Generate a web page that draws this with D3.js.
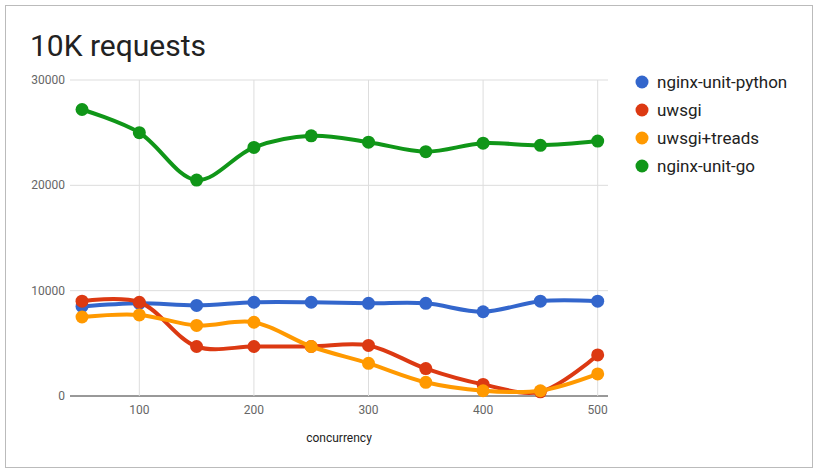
<!DOCTYPE html>
<html><head><meta charset="utf-8">
<script src="https://cdn.jsdelivr.net/npm/d3@7"></script>
<style>body{margin:0;background:#fff;font-family:Roboto,Arial,sans-serif}</style>
</head><body><svg id="c" width="820" height="476"></svg>
<script>
var concurrency = [50, 100, 150, 200, 250, 300, 350, 400, 450, 500];
var python = [8500, 8800, 8600, 8900, 8900, 8800, 8800, 8000, 9000, 9000];
var uwsgi = [9000, 8900, 4700, 4700, 4700, 4800, 2600, 1100, 400, 3900];
var treads = [7500, 7700, 6700, 7000, 4700, 3100, 1300, 500, 500, 2100];
var go = [27200, 25000, 20500, 23600, 24700, 24100, 23200, 24000, 23800, 24200];
var names = ["nginx-unit-python", "uwsgi", "uwsgi+treads", "nginx-unit-go"];
var colors = ["#3366cc", "#dc3912", "#ff9900", "#109618"];
var yTicks = [0, 10000, 20000, 30000];
var xTicks = [100, 200, 300, 400, 500];

var svg = d3.select("#c");
svg.append("rect").attr("x", 5.5).attr("y", 5.5).attr("width", 807).attr("height", 462)
	.attr("fill", "#fff").attr("stroke", "#bbb");
svg.append("text").attr("x", 30).attr("y", 56).attr("font-size", 30).attr("fill", "#222").text("10K requests");

var x = d3.scaleLinear().domain([39.5, 509]).range([70, 608]);
var y = d3.scaleLinear().domain([0, 30000]).range([396, 80]);

var g = svg.append("g");
g.selectAll(".hg").data(yTicks).enter().append("line")
	.attr("x1", 70).attr("x2", 608).attr("y1", d => y(d)).attr("y2", d => y(d))
	.attr("stroke", d => d ? "#ddd" : "#333");
g.selectAll(".vg").data(xTicks).enter().append("line")
	.attr("x1", d => x(d)).attr("x2", d => x(d)).attr("y1", 80).attr("y2", 396)
	.attr("stroke", "#ddd");
g.selectAll(".yl").data(yTicks).enter().append("text")
	.attr("x", 65).attr("y", d => y(d) + 4).attr("text-anchor", "end")
	.attr("font-size", 12).attr("fill", "#666").text(d => d);
g.selectAll(".xl").data(xTicks).enter().append("text")
	.attr("x", d => x(d)).attr("y", 414).attr("text-anchor", "middle")
	.attr("font-size", 12).attr("fill", "#666").text(d => d);
svg.append("text").attr("x", 339).attr("y", 442).attr("text-anchor", "middle")
	.attr("font-size", 12).attr("fill", "#222").text("concurrency");

var series = [python, uwsgi, treads, go];
var line = d3.line().x((d, i) => x(concurrency[i])).y(d => y(d)).curve(d3.curveCatmullRom.alpha(0.5));
series.forEach(function (s, k) {
	svg.append("path").attr("d", line(s)).attr("fill", "none")
		.attr("stroke", colors[k]).attr("stroke-width", 4);
	svg.selectAll(".p" + k).data(s).enter().append("circle")
		.attr("cx", (d, i) => x(concurrency[i])).attr("cy", d => y(d)).attr("r", 6.5)
		.attr("fill", colors[k]);
});

var lg = svg.selectAll(".lg").data(names).enter().append("g")
	.attr("transform", (d, i) => "translate(642," + (82 + i * 28) + ")");
lg.append("circle").attr("r", 6.5).attr("fill", (d, i) => colors[i]);
lg.append("text").attr("x", 15).attr("y", 6).attr("font-size", 17).attr("fill", "#222").text(d => d);
</script></body></html>
